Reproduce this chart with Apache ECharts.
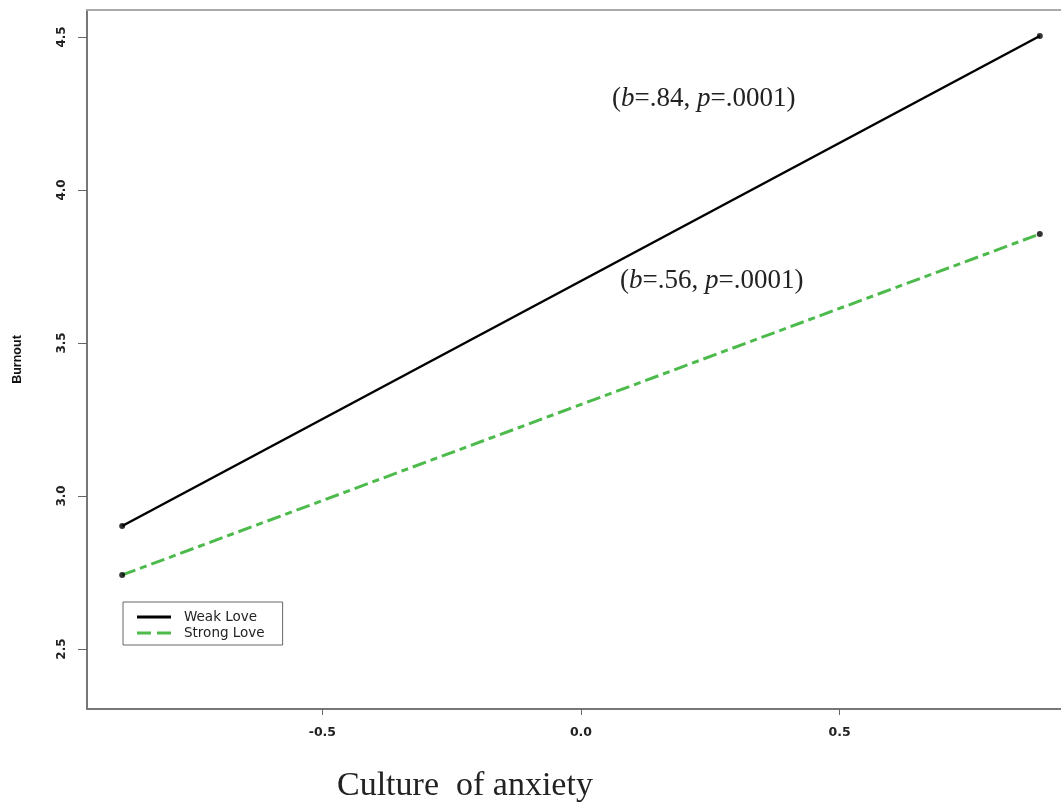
<!DOCTYPE html>
<html>
<head>
<meta charset="utf-8">
<script src="https://cdn.jsdelivr.net/npm/echarts@6/dist/echarts.min.js"></script>
<style>html,body{margin:0;padding:0;background:#fff}#c{width:1061px;height:811px}</style>
</head>
<body>
<div id="c"></div>
<script>
// Data
const xValues = [-0.887, 0.887];
const weakLove = [2.902, 4.503];
const strongLove = [2.742, 3.856];
const seriesNames = ['Weak Love', 'Strong Love'];
const xTicks = [-0.5, 0.0, 0.5];
const yTicks = [2.5, 3.0, 3.5, 4.0, 4.5];
const xTitle = 'Culture  of anxiety';
const yTitle = 'Burnout';
const notes = [['.84', '.0001'], ['.56', '.0001']];

const pairs = (ys) => xValues.map((x, i) => [x, ys[i]]);
const green = '#4cbb4c';

const chart = echarts.init(document.getElementById('c'));
const note = (n) => '{n|(}{i|b}{n|=' + n[0] + ', }{i|p}{n|=' + n[1] + ')}';
const richStyle = {
  n: { fontFamily: 'Liberation Serif', fontSize: 27, fill: '#222' },
  i: { fontFamily: 'Liberation Serif', fontSize: 27, fontStyle: 'italic', fill: '#222' }
};
chart.setOption({
  animation: false,
  backgroundColor: '#fff',
  grid: { left: 87, top: 10, right: 0, bottom: 102, containLabel: false },
  xAxis: [{
    type: 'value', min: -0.955, max: 0.928, position: 'bottom',
    axisLine: { show: true, onZero: false, lineStyle: { color: '#777', width: 2 } },
    axisTick: { show: true, length: 6, customValues: xTicks, lineStyle: { color: '#666' } },
    axisLabel: { customValues: xTicks, formatter: v => v.toFixed(1), margin: 17,
      fontFamily: 'DejaVu Sans', fontWeight: 'bold', fontSize: 12.5, color: '#222' },
    splitLine: { show: false }
  }, {
    type: 'value', min: -0.955, max: 0.928, position: 'top',
    axisLine: { show: true, onZero: false, lineStyle: { color: '#aaa', width: 2 } },
    axisTick: { show: false }, axisLabel: { show: false }, splitLine: { show: false }
  }],
  yAxis: {
    type: 'value', min: 2.304, max: 4.588,
    name: yTitle, nameLocation: 'middle', nameGap: 63, nameRotate: 90,
    nameTextStyle: { fontFamily: 'Liberation Sans', fontWeight: 'bold', fontSize: 12.5, color: '#111' },
    axisLine: { show: true, onZero: false, lineStyle: { color: '#777', width: 2 } },
    axisTick: { show: true, length: 9, customValues: yTicks, lineStyle: { color: '#666' } },
    axisLabel: { customValues: yTicks, formatter: v => v.toFixed(1), rotate: 90, margin: 19,
      fontFamily: 'DejaVu Sans', fontWeight: 'bold', fontSize: 12, color: '#222' },
    splitLine: { show: false }
  },
  legend: {
    left: 123, top: 602, orient: 'vertical', itemGap: 2,
    padding: [8, 18, 5, 14], itemWidth: 34, itemHeight: 3,
    backgroundColor: '#fff', borderColor: '#666', borderWidth: 1, borderRadius: 0,
    textStyle: { fontFamily: 'DejaVu Sans', fontSize: 13.5, color: '#222', padding: [0, 0, 0, 8] },
    data: [
      { name: seriesNames[0], icon: 'path://M0,0h34v3h-34z', itemStyle: { color: '#000' } },
      { name: seriesNames[1], icon: 'path://M0,0h14v3h-14zM20,0h14v3h-14z', itemStyle: { color: green } }
    ]
  },
  series: [
    { name: seriesNames[0], type: 'line', data: pairs(weakLove), symbol: 'none',
      lineStyle: { color: '#000', width: 2.5 }, itemStyle: { color: '#000' }, z: 3 },
    { name: seriesNames[1], type: 'line', data: pairs(strongLove), symbol: 'none',
      lineStyle: { color: green, width: 3, type: [14, 5, 7, 5] }, itemStyle: { color: green }, z: 3 },
    { name: 'pts1', type: 'scatter', data: pairs(weakLove), symbol: 'circle', symbolSize: 6,
      itemStyle: { color: '#000' }, z: 4 },
    { name: 'pts2', type: 'scatter', data: pairs(strongLove), symbol: 'circle', symbolSize: 6,
      itemStyle: { color: '#000' }, z: 4 }
  ],
  graphic: [
    { type: 'text', left: 612, top: 85, style: { text: note(notes[0]), rich: richStyle } },
    { type: 'text', left: 620, top: 267, style: { text: note(notes[1]), rich: richStyle } },
    { type: 'text', left: 337, top: 769, style: { text: xTitle, fontFamily: 'Liberation Serif', fontSize: 34, fill: '#222' } }
  ]
});
</script>
</body>
</html>
